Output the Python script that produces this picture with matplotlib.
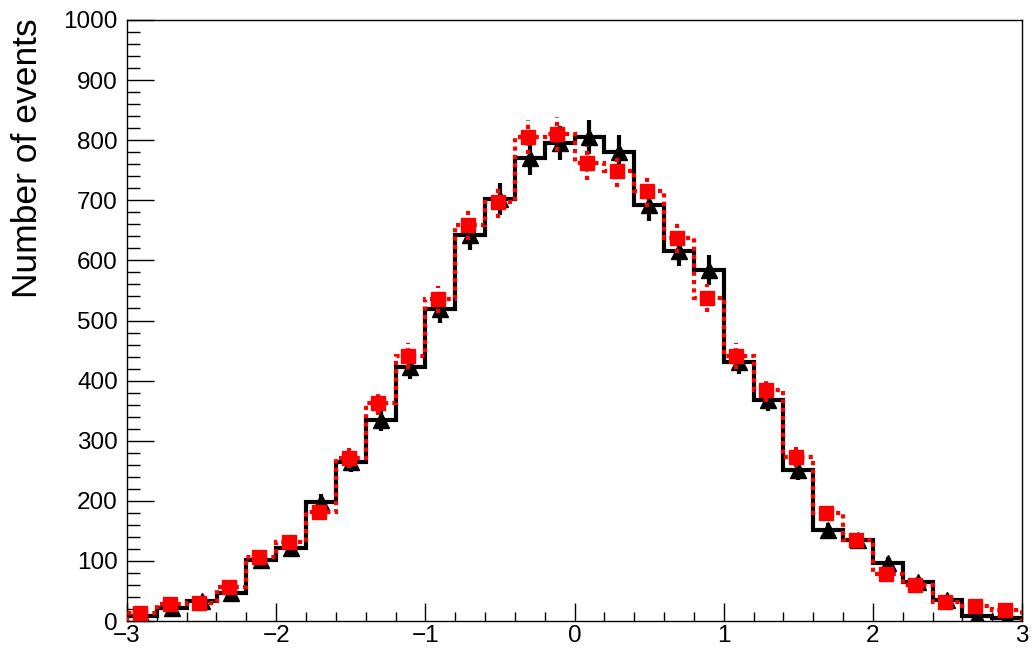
import numpy as np
import matplotlib
matplotlib.use("Agg")
import matplotlib.pyplot as plt
from matplotlib.ticker import MultipleLocator

plt.rcParams['font.family'] = ['Liberation Sans', 'DejaVu Sans']

# Bin edges (30 bins of width 0.2 from -3 to 3)
bin_edges = np.linspace(-3, 3, 31)
bin_centers = 0.5 * (bin_edges[:-1] + bin_edges[1:])

# Black histogram (solid, triangle markers)
black_counts = [8, 22, 33, 47, 101, 121, 198, 265, 334, 423,
                519, 642, 702, 770, 795, 806, 781, 692, 615, 584,
                431, 368, 251, 151, 135, 96, 65, 35, 8, 5]
# Red histogram (dashed, square markers)
red_counts = [13, 28, 30, 56, 106, 132, 182, 271, 362, 441,
              535, 659, 697, 806, 810, 762, 749, 716, 637, 537,
              441, 384, 273, 180, 135, 78, 60, 32, 25, 18]

y_label = "Number of events"
x_ticks = [-3, -2, -1, 0, 1, 2, 3]
y_ticks = [0, 100, 200, 300, 400, 500, 600, 700, 800, 900, 1000]

W, H = 1032, 649
fig = plt.figure(figsize=(W / 100, H / 100), dpi=100)
ax = fig.add_axes([127 / W, 1 - 621 / H, (1022 - 127) / W, (621 - 20) / H])

bc = np.array(black_counts, dtype=float)
rc = np.array(red_counts, dtype=float)

# black histogram
ax.stairs(bc, bin_edges, color='black', lw=3.0, zorder=2)
ax.errorbar(bin_centers, bc, yerr=np.sqrt(bc), fmt='^', color='black',
            ms=12, elinewidth=3.0, capsize=0, zorder=3)

# red histogram
st = ax.stairs(rc, bin_edges, color='red', lw=3.0, zorder=4)
st.set_linestyle((0, (1, 1)))
st.set_capstyle('butt')
eb = ax.errorbar(bin_centers - 0.015, rc, yerr=np.sqrt(rc), fmt='s', color='red',
                 ms=10, elinewidth=3.0, capsize=0, zorder=5)
for lc in eb[2]:
    lc.set_linestyle((0, (1, 1)))

ax.set_xlim(-3, 3)
ax.set_ylim(0, 1000)
ax.set_xticks(x_ticks)
ax.set_yticks(y_ticks)
ax.xaxis.set_minor_locator(MultipleLocator(0.2))
ax.yaxis.set_minor_locator(MultipleLocator(20))

ax.tick_params(axis='y', which='major', direction='in', length=19.4, width=1.0,
               labelsize=17.5, pad=6.5, left=True, right=False)
ax.tick_params(axis='y', which='minor', direction='in', length=9.7, width=1.0,
               left=True, right=False)
ax.tick_params(axis='x', which='major', direction='in', length=13, width=1.0,
               labelsize=17.5, pad=3, bottom=True, top=False)
ax.tick_params(axis='x', which='minor', direction='in', length=6.5, width=1.0,
               bottom=True, top=False)
for s in ax.spines.values():
    s.set_linewidth(1.0)

fig.text(28 / W, 1 - 18 / H, y_label, rotation=90, ha='center', va='top',
         fontsize=25.5)

fig.savefig("out.png", dpi=100)
